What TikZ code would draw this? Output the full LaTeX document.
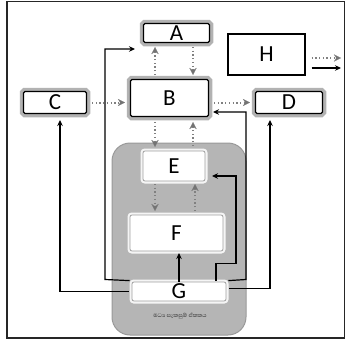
\documentclass[tikz,border=0pt]{standalone}
\usepackage{fontspec}
\setmainfont{Carlito}
\newfontfamily\sinhalafont[Script=Sinhala]{Abhaya Libre}
\usetikzlibrary{arrows.meta,calc}
\begin{document}
\begin{tikzpicture}[x=1pt,y=-1pt,
  halobox/.style={draw=black, line width=1.1pt, fill=white, rounded corners=1.5pt,
     preaction={draw=gray!60, line width=7.5pt, rounded corners=4pt},
     font=\fontsize{23}{23}\selectfont, inner sep=0pt},
  whitebox/.style={draw=gray!75, line width=0.8pt, fill=white, rounded corners=2pt,
     preaction={draw=white!92!gray, line width=5pt, rounded corners=4pt},
     font=\fontsize{23}{23}\selectfont, inner sep=0pt},
  plainbox/.style={draw=black, line width=1.3pt, fill=white,
     font=\fontsize{23}{23}\selectfont, inner sep=0pt},
  dotarrow/.style={draw=black!50, line width=2pt, dash pattern=on 1.3pt off 2.4pt,
     -{Stealth[length=7pt,width=7pt,fill=black!55,line width=0.1pt]}},
  solidarrow/.style={draw=black, line width=1.2pt, -{Stealth[length=6pt,width=5.5pt]}},
  solidline/.style={draw=black, line width=1.2pt}]
\useasboundingbox (0,0) rectangle (346,340);
% outer frame
\draw[line width=1.3pt, draw=black!85] (7,1.5) rectangle (344.5,338);
% gray region
\node[draw=gray!80, line width=1pt, fill=gray!58, rounded corners=18pt,
      minimum width=134pt, minimum height=192pt, inner sep=0pt] (cpu) at (179,239) {};
% nodes
\node[halobox, minimum width=66pt, minimum height=19pt] (A) at (176.5,33) {\raisebox{-4pt}{A}};
\node[plainbox, minimum width=77pt, minimum height=41pt] (H) at (266.5,54.5) {\raisebox{-1pt}{H}};
\node[halobox, minimum width=78pt, minimum height=37pt] (B) at (169.5,98) {\raisebox{-4pt}{B}};
\node[halobox, minimum width=63pt, minimum height=22pt] (C) at (55,102.5) {\raisebox{-1pt}{C}};
\node[halobox, minimum width=67pt, minimum height=22pt] (D) at (289,102.5) {\raisebox{-1pt}{D}};
\node[whitebox, minimum width=62pt, minimum height=30pt] (E) at (174,166) {\raisebox{-3pt}{E}};
\node[whitebox, minimum width=93pt, minimum height=36pt] (F) at (176.5,233) {F};
\node[whitebox, minimum width=94pt, minimum height=19pt] (G) at (179,291.5) {\raisebox{-4pt}{G}};
\node[font=\sinhalafont\fontsize{7}{7}\selectfont, text=black!85] (lbl) at (180,316) {මධ්‍ය සැකසුම් ඒකකය};
% dotted connectors
\draw[dotarrow] ($(C.east)+(5,0)$) -- ($(B.west)+(-5,4.5)$);
\draw[dotarrow] ($(B.east)+(5,4.5)$) -- ($(D.west)+(-5,0)$);
\draw[dotarrow] (155,75) -- (155,47);
\draw[dotarrow] (193,47) -- (193,75);
\draw[dotarrow] (155,122) -- (155,147);
\draw[dotarrow] (193,146) -- (193,122);
\draw[dotarrow] (155,184) -- (155,211);
\draw[dotarrow] (195,211) -- (195,184);
\coordinate (h1) at (341,58);
\coordinate (h2) at (341,68);
\draw[dotarrow] ($(H.east)+(6,3.5)$) -- (h1);
\draw[solidarrow] ($(H.east)+(6,13.5)$) -- (h2);
% solid connectors
\coordinate (aIn) at (135,49);
\coordinate (bIn) at (213,112);
\coordinate (eIn) at (212,176);
\coordinate (cIn) at (60,120);
\coordinate (dIn) at (270,120);
\draw[solidarrow] ($(G.north west)+(-2,-1)$) -- (105,279.5) -- (105,49) -- (aIn);
\draw[solidarrow] ($(G.north east)+(2,-1)$) -- (246,279.5) -- (246,112) -- (bIn);
\draw[solidarrow] (G.north -| 179,0) -- (179,253);
\draw[solidarrow] (216,281) -- (216,263.5) -- (236,263.5) -- (236,176) -- (eIn);
\draw[solidarrow] ($(G.west)+(-3,0)$) -- (60,291.5) -- (cIn);
\draw[solidarrow] ($(G.east)+(3,-3)$) -- (270,288.5) -- (dIn);
\end{tikzpicture}
\end{document}
